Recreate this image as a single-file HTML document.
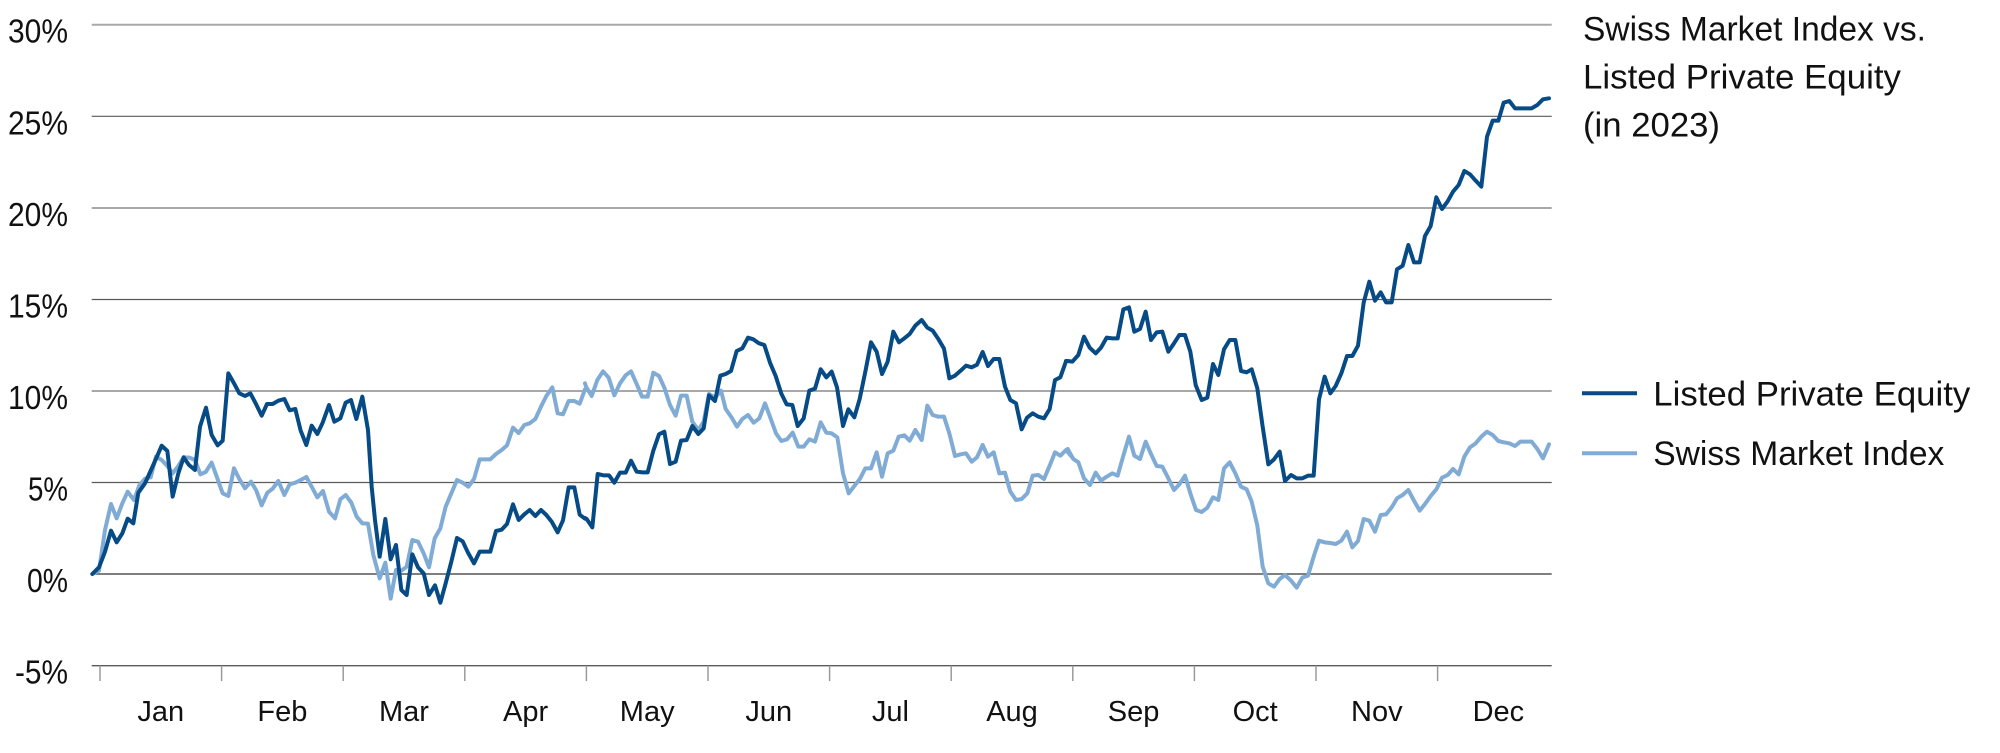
<!DOCTYPE html>
<html>
<head>
<meta charset="utf-8">
<style>
html,body{margin:0;padding:0;background:#fff;}
svg{display:block;}
</style>
</head>
<body>
<svg width="2000" height="753" viewBox="0 0 2000 753" xmlns="http://www.w3.org/2000/svg" font-family="'Liberation Sans', sans-serif">
<rect width="2000" height="753" fill="#fff"/>
<!-- gridlines -->
<g>
<line x1="91.7" x2="1551.7" y1="24.7" y2="24.7" stroke="#a8a8a8" stroke-width="2"/>
<line x1="91.7" x2="1551.7" y1="116.3" y2="116.3" stroke="#5a5a5a" stroke-width="1.2"/>
<line x1="91.7" x2="1551.7" y1="208" y2="208" stroke="#a8a8a8" stroke-width="2"/>
<line x1="91.7" x2="1551.7" y1="299.5" y2="299.5" stroke="#5a5a5a" stroke-width="1.2"/>
<line x1="91.7" x2="1551.7" y1="391" y2="391" stroke="#a8a8a8" stroke-width="2"/>
<line x1="91.7" x2="1551.7" y1="482.5" y2="482.5" stroke="#5a5a5a" stroke-width="1.2"/>
<line x1="91.7" x2="1551.7" y1="574" y2="574" stroke="#555" stroke-width="1.5"/>
<line x1="91.7" x2="1551.7" y1="665.7" y2="665.7" stroke="#5a5a5a" stroke-width="1.4"/>
</g>
<!-- ticks -->
<g stroke="#9a9a9a" stroke-width="1.5">
<line x1="100" x2="100" y1="665.7" y2="681"/>
<line x1="221.6" x2="221.6" y1="665.7" y2="681"/>
<line x1="343.2" x2="343.2" y1="665.7" y2="681"/>
<line x1="464.8" x2="464.8" y1="665.7" y2="681"/>
<line x1="586.4" x2="586.4" y1="665.7" y2="681"/>
<line x1="708" x2="708" y1="665.7" y2="681"/>
<line x1="829.6" x2="829.6" y1="665.7" y2="681"/>
<line x1="951.2" x2="951.2" y1="665.7" y2="681"/>
<line x1="1072.8" x2="1072.8" y1="665.7" y2="681"/>
<line x1="1194.4" x2="1194.4" y1="665.7" y2="681"/>
<line x1="1316" x2="1316" y1="665.7" y2="681"/>
<line x1="1437.6" x2="1437.6" y1="665.7" y2="681"/>
</g>
<!-- y labels -->
<g font-size="33" fill="#111" text-anchor="end">
<text x="68" y="42.7" textLength="60" lengthAdjust="spacingAndGlyphs">30%</text>
<text x="68" y="134.3" textLength="60" lengthAdjust="spacingAndGlyphs">25%</text>
<text x="68" y="226" textLength="60" lengthAdjust="spacingAndGlyphs">20%</text>
<text x="68" y="317.5" textLength="60" lengthAdjust="spacingAndGlyphs">15%</text>
<text x="68" y="409" textLength="60" lengthAdjust="spacingAndGlyphs">10%</text>
<text x="68" y="500.5" textLength="40" lengthAdjust="spacingAndGlyphs">5%</text>
<text x="68" y="592" textLength="41" lengthAdjust="spacingAndGlyphs">0%</text>
<text x="68" y="683.7" textLength="53" lengthAdjust="spacingAndGlyphs">-5%</text>
</g>
<!-- month labels -->
<g font-size="29" fill="#111" text-anchor="middle">
<text x="160.8" y="721">Jan</text>
<text x="282.4" y="721">Feb</text>
<text x="404" y="721">Mar</text>
<text x="525.6" y="721">Apr</text>
<text x="647.2" y="721">May</text>
<text x="768.8" y="721">Jun</text>
<text x="890.4" y="721">Jul</text>
<text x="1012" y="721">Aug</text>
<text x="1133.6" y="721">Sep</text>
<text x="1255.2" y="721">Oct</text>
<text x="1376.8" y="721">Nov</text>
<text x="1498.4" y="721">Dec</text>
</g>

<!-- Swiss Market Index (light) -->
<g fill="none" stroke="#80abd4" stroke-width="12" stroke-linejoin="round" stroke-linecap="round">
<polyline transform="translate(85,360) scale(0.333333)" points="22,642 42,632 60,510 78,432 95,475 112,430 128,395 147,420 163,376 180,356 197,352 213,290 230,300 247,318 263,340 280,318 296,292 314,293 330,300 346,343 362,336 380,308 397,355 413,400 430,408 447,325 463,357 480,385 498,365 514,392 530,436 547,398 563,386 580,363 598,405 614,373 631,368 647,360 664,351 680,380 697,412 714,393 732,455 750,475 766,418 782,405 799,428 815,470 832,490 849,491 865,585 884,655 901,608 917,716 933,630 949,632 965,620 982,540 999,545 1016,580 1032,622 1049,535 1066,505 1082,440 1099,400 1116,360 1133,368 1150,380 1167,357 1184,298 1200,298 1216,298 1233,282 1250,270 1266,256 1284,203 1301,219 1318,195 1334,190 1351,177 1368,140 1384,108 1402,82 1418,160 1434,163 1451,123 1468,123 1484,131 1500,88"/>
<polyline transform="translate(575,290) scale(0.333333)" points="30,280 34,292 50,318 67,270 84,244 101,263 118,316 135,280 152,256 168,244 185,282 201,320 218,320 235,248 252,258 268,293 285,345 302,377 318,317 335,317 352,395 370,420 386,395 402,312 420,323 438,302 452,357 470,383 486,410 502,387 519,375 536,398 553,385 570,340 586,383 603,430 619,453 636,448 653,428 670,470 686,470 703,448 720,455 737,397 754,428 770,430 787,442 804,550 821,610 838,588 855,566 871,535 888,535 905,487 921,560 938,490 955,482 971,440 988,436 1004,452 1021,420 1040,450 1057,347 1073,375 1090,380 1107,380 1123,430 1140,498 1157,493 1173,490 1190,515 1206,502 1223,465 1239,500 1256,487 1273,550 1290,548 1306,605 1323,630 1340,627 1357,610 1373,557 1390,555 1407,567 1424,527 1440,487 1456,497 1473,480 1490,500"/>
<polyline transform="translate(1065,80) scale(0.333333)" points="8,1107 25,1137 40,1147 57,1195 75,1215 92,1178 108,1202 125,1190 142,1180 158,1187 175,1127 192,1070 208,1127 225,1137 242,1085 258,1122 275,1158 292,1160 310,1195 327,1230 343,1213 360,1187 376,1240 393,1290 410,1296 427,1283 444,1252 460,1260 477,1165 494,1147 511,1180 528,1220 545,1228 560,1265 577,1337 593,1460 610,1510 627,1520 644,1497 660,1485 678,1502 695,1523 712,1493 729,1487 746,1430 762,1382 779,1387 796,1389 812,1392 829,1382 846,1355 862,1402 879,1383 896,1317 913,1322 930,1355 947,1305 963,1303 980,1282 996,1255 1013,1245 1030,1230 1047,1262 1064,1292 1080,1272 1097,1248 1114,1228 1131,1193 1148,1185 1164,1167 1181,1183 1198,1130 1215,1102 1232,1090 1249,1070 1266,1055 1283,1065 1300,1083 1316,1087 1333,1090 1350,1098 1366,1085 1383,1085 1400,1085 1417,1107 1434,1135 1452,1093"/>
</g>

<!-- Listed Private Equity (dark) -->
<g fill="none" stroke="#064b85" stroke-width="12" stroke-linejoin="round" stroke-linecap="round">
<polyline transform="translate(85,360) scale(0.333333)" points="22,642 42,622 60,575 78,512 95,547 112,520 128,476 145,490 160,398 180,370 198,330 215,292 230,257 247,273 263,410 280,340 296,292 312,315 330,330 345,200 363,143 380,225 398,256 413,242 430,40 447,70 463,100 480,108 496,100 512,130 530,167 546,132 563,132 580,122 598,117 614,151 631,147 647,212 664,255 680,197 697,222 713,188 732,135 748,185 766,175 782,128 798,120 814,177 832,110 849,210 860,380 870,480 884,590 901,477 917,598 933,555 949,690 965,705 982,583 999,622 1016,640 1032,705 1050,676 1066,728 1082,670 1099,605 1116,534 1133,544 1149,578 1167,610 1184,575 1200,575 1216,575 1233,513 1250,509 1266,492 1284,433 1301,480 1318,463 1334,450 1351,468 1368,450 1384,465 1400,485 1418,517 1434,481 1451,382 1468,382 1484,464 1500,476"/>
<polyline transform="translate(575,290) scale(0.333333)" points="30,684 35,687 52,712 68,552 85,556 102,556 118,578 135,548 152,548 168,512 185,545 202,547 218,547 235,482 252,433 268,425 285,522 302,515 318,452 335,450 352,408 370,432 386,415 402,316 420,333 436,257 452,252 468,243 485,183 502,175 519,143 535,148 552,160 568,165 585,218 602,258 619,311 635,343 652,345 668,408 686,385 703,302 720,296 737,238 754,262 770,245 786,292 804,408 820,358 838,382 854,327 871,245 888,157 905,185 921,252 938,215 955,125 972,157 988,145 1004,132 1021,107 1040,90 1057,113 1073,122 1090,147 1107,176 1123,265 1140,257 1157,242 1173,227 1190,232 1206,224 1223,186 1239,228 1256,207 1273,207 1290,290 1306,330 1323,340 1340,418 1356,383 1373,370 1390,380 1407,385 1424,357 1440,270 1456,262 1473,214"/>
<polyline transform="translate(1065,80) scale(0.333333)" points="3,843 8,843 22,845 40,825 57,770 74,803 92,820 108,803 125,773 142,775 158,775 175,688 192,682 208,755 225,747 242,695 258,780 275,757 292,755 310,815 327,790 343,765 360,765 376,815 392,915 410,960 427,953 444,852 460,885 477,808 494,780 511,780 528,873 545,877 560,868 577,925 593,1040 610,1153 627,1138 644,1115 660,1203 678,1185 695,1195 712,1195 729,1187 746,1187 762,958 779,890 796,940 812,918 829,880 846,828 862,828 879,797 896,668 913,605 930,662 947,637 963,667 980,667 996,568 1013,557 1030,495 1047,547 1064,547 1080,468 1097,438 1114,352 1131,387 1148,364 1164,335 1181,315 1198,273 1215,283 1232,302 1249,320 1266,170 1283,122 1300,122 1316,68 1333,63 1350,85 1366,85 1383,85 1400,85 1417,75 1434,58 1452,55"/>
</g>

<!-- title -->
<g font-size="34" fill="#111">
<text x="1583" y="40.5" textLength="343" lengthAdjust="spacingAndGlyphs">Swiss Market Index vs.</text>
<text x="1583" y="88.5" textLength="318" lengthAdjust="spacingAndGlyphs">Listed Private Equity</text>
<text x="1583" y="136.5" textLength="137" lengthAdjust="spacingAndGlyphs">(in 2023)</text>
</g>

<!-- legend -->
<line x1="1582" x2="1637" y1="393.3" y2="393.3" stroke="#064b85" stroke-width="4"/>
<line x1="1582" x2="1637" y1="453.3" y2="453.3" stroke="#80abd4" stroke-width="4"/>
<g font-size="34" fill="#111">
<text x="1653.3" y="405.7" textLength="317" lengthAdjust="spacingAndGlyphs">Listed Private Equity</text>
<text x="1653.3" y="465" textLength="291" lengthAdjust="spacingAndGlyphs">Swiss Market Index</text>
</g>
</svg>
</body>
</html>
